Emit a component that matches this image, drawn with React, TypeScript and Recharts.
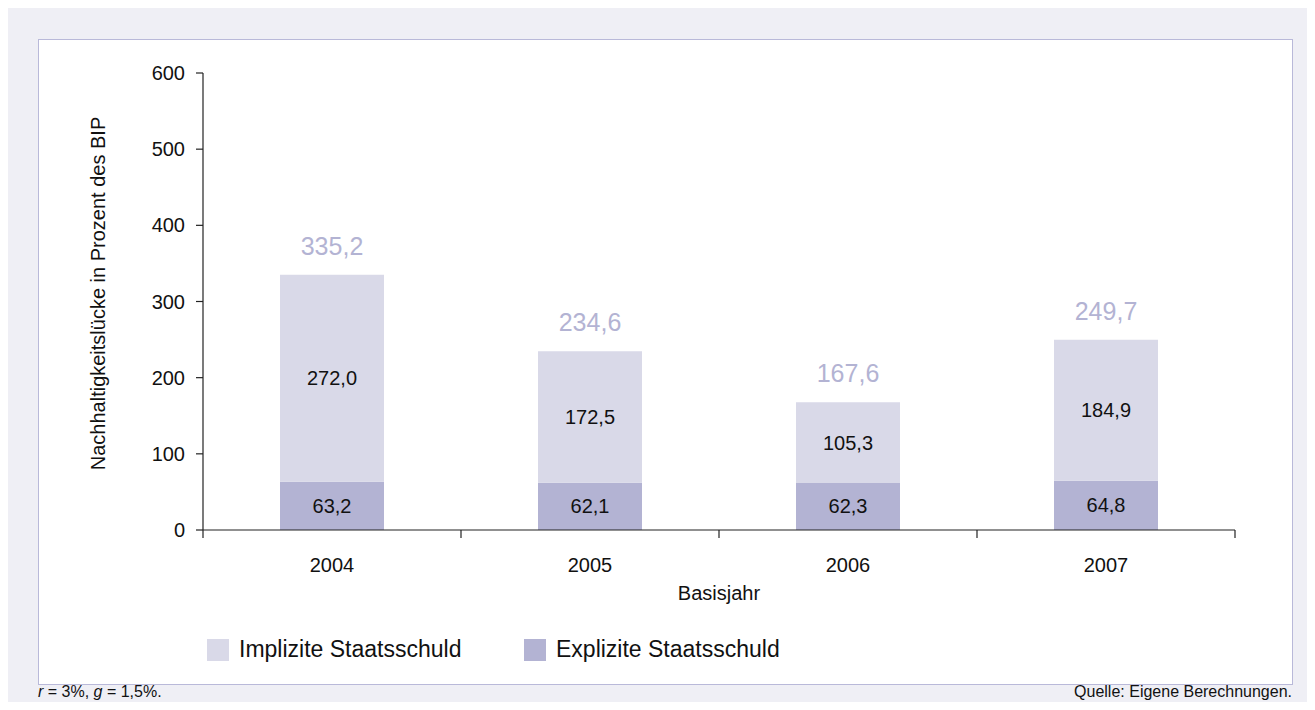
import { BarChart, Bar, XAxis, YAxis, LabelList, Legend } from 'recharts'

const years = ['2004', '2005', '2006', '2007']
const explizit = [63.2, 62.1, 62.3, 64.8]
const implizit = [272.0, 172.5, 105.3, 184.9]
const totals = [335.2, 234.6, 167.6, 249.7]
const yTicks = [0, 100, 200, 300, 400, 500, 600]
const xTicks = [0, 0.5, 1, 1.5, 2, 2.5, 3, 3.5, 4]

const LIGHT = '#d9d9e8'
const DARK = '#b3b3d3'
const AXIS = '#222'
const FONT = 'Arial, "Liberation Sans", Helvetica, sans-serif'

const data = years.map((y, i) => ({
  pos: i + 0.5,
  year: y,
  explizit: explizit[i],
  implizit: implizit[i],
  total: totals[i],
}))

const fmt = (v: unknown) => Number(v).toFixed(1).replace('.', ',')

function YearTick({ x, y, payload }: any) {
  const v = Number(payload.value)
  if (Number.isInteger(v)) {
    return <line x1={x} x2={x} y1={y - 8} y2={y} stroke={AXIS} strokeWidth={1.2} />
  }
  const idx = Math.floor(v)
  return (
    <text x={x} y={y + 34} textAnchor="middle" fontSize={20} fill="#111" fontFamily={FONT}>
      {years[idx]}
    </text>
  )
}

function LegendBox() {
  const items = [
    { name: 'Implizite Staatsschuld', color: LIGHT },
    { name: 'Explizite Staatsschuld', color: DARK },
  ]
  return (
    <div style={{ display: 'flex', alignItems: 'center', fontFamily: FONT }}>
      {items.map((it) => (
        <div key={it.name} style={{ display: 'flex', alignItems: 'center', width: 317 }}>
          <span style={{ width: 22, height: 22, background: it.color, marginRight: 10, display: 'inline-block' }} />
          <span style={{ fontSize: 23, fontWeight: 500, color: '#111' }}>{it.name}</span>
        </div>
      ))}
    </div>
  )
}

export default function App() {
  return (
    <div style={{ position: 'relative', width: 1299, height: 694, background: '#efeff5', fontFamily: FONT }}>
      <div
        style={{
          position: 'absolute',
          left: 30,
          top: 31,
          width: 1253,
          height: 644,
          background: '#fff',
          border: '1px solid #b9b9d9',
        }}
      >
        <BarChart
          width={1253}
          height={644}
          data={data}
          margin={{ top: 33, right: 57, left: 0, bottom: 14 }}
          barSize={104}
        >
          <XAxis
            dataKey="pos"
            type="number"
            domain={[0, 4]}
            ticks={xTicks}
            interval={0}
            height={90}
            tickLine={false}
            tickSize={8}
            tickMargin={0}
            tick={<YearTick />}
            stroke={AXIS}
            strokeWidth={1.2}
            label={{
              content: ({ viewBox }: any) => (
                <text
                  x={viewBox.x + viewBox.width / 2}
                  y={viewBox.y + 70}
                  textAnchor="middle"
                  fontSize={20}
                  fontWeight={500}
                  fill="#111"
                  fontFamily={FONT}
                >
                  Basisjahr
                </text>
              ),
            }}
          />
          <YAxis
            width={164}
            domain={[0, 600]}
            ticks={yTicks}
            interval={0}
            tickSize={7}
            tickMargin={11}
            stroke={AXIS}
            strokeWidth={1.2}
            tick={{ fontSize: 20, fill: '#111', fontFamily: FONT }}
            tickLine={{ stroke: AXIS }}
            label={{
              content: ({ viewBox }: any) => {
                const cx = 61
                const cy = viewBox.y + viewBox.height / 2 - 8
                return (
                  <text
                    x={cx}
                    y={cy}
                    transform={`rotate(-90 ${cx} ${cy})`}
                    textAnchor="middle"
                    dominantBaseline="middle"
                    fontSize={20}
                    fill="#111"
                    fontFamily={FONT}
                  >
                    Nachhaltigkeitslücke in Prozent des BIP
                  </text>
                )
              },
            }}
          />
          <Legend
            height={50}
            content={<LegendBox />}
            wrapperStyle={{ left: 168, top: 596, bottom: 'auto', width: 760 }}
          />
          <Bar dataKey="explizit" stackId="a" fill={DARK} isAnimationActive={false} legendType="none">
            <LabelList dataKey="explizit" position="center" formatter={fmt} fontSize={20} fill="#111" fontFamily={FONT} />
          </Bar>
          <Bar dataKey="implizit" stackId="a" fill={LIGHT} isAnimationActive={false} legendType="none">
            <LabelList dataKey="implizit" position="center" formatter={fmt} fontSize={20} fill="#111" fontFamily={FONT} />
            <LabelList dataKey="total" position="top" offset={20} formatter={fmt} fontSize={25} fill={DARK} fontFamily={FONT} />
          </Bar>
        </BarChart>
      </div>
      <div style={{ position: 'absolute', left: 30, top: 675, fontSize: 16, color: '#111' }}>
        <i>r</i> = 3%, <i>g</i> = 1,5%.
      </div>
      <div style={{ position: 'absolute', right: 15, top: 675, fontSize: 16, color: '#111' }}>
        Quelle: Eigene Berechnungen.
      </div>
    </div>
  )
}
